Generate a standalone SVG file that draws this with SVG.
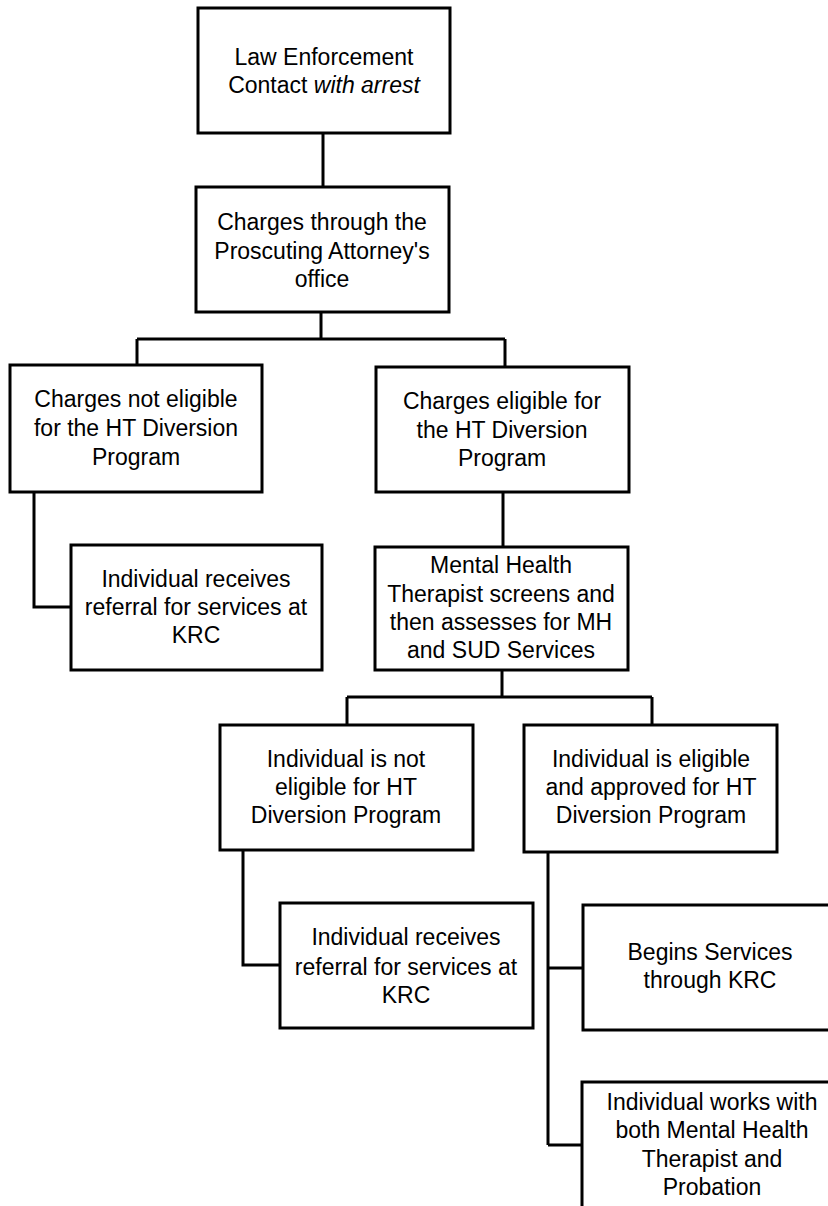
<svg xmlns="http://www.w3.org/2000/svg" width="828" height="1206" viewBox="0 0 828 1206">
<style>
.box{fill:#fff;stroke:#000;stroke-width:3}
.ln{fill:none;stroke:#000;stroke-width:3}
text{font-family:"Liberation Sans",Arial,sans-serif;font-size:23px;text-anchor:middle;fill:#000}
</style>
<rect width="828" height="1206" fill="#fff"/>
<g id="connectors">
<path class="ln" d="M323 133V187"/>
<path class="ln" d="M321 312V339M137 339H505M137 339V365M505 339V367"/>
<path class="ln" d="M34 492V607H71"/>
<path class="ln" d="M503 492V547"/>
<path class="ln" d="M502 670V697M347 697H652M347 697V725M652 697V725"/>
<path class="ln" d="M243 850V965H280"/>
<path class="ln" d="M548 852V1145M548 968H583M548 1145H582"/>
</g>
<g id="n1"><rect class="box" x="198" y="8" width="252" height="125"/>
<text x="324" y="65">Law Enforcement</text><text x="324" y="93">Contact <tspan font-style="italic">with arrest</tspan></text></g>
<g id="n2"><rect class="box" x="196" y="187" width="253" height="125"/>
<text x="322" y="230">Charges through the</text><text x="322" y="259">Proscuting Attorney's</text><text x="322" y="287">office</text></g>
<g id="n3"><rect class="box" x="10" y="365" width="252" height="127"/>
<text x="136" y="407">Charges not eligible</text><text x="136" y="436">for the HT Diversion</text><text x="136" y="465">Program</text></g>
<g id="n4"><rect class="box" x="376" y="367" width="253" height="125"/>
<text x="502" y="409">Charges eligible for</text><text x="502" y="438">the HT Diversion</text><text x="502" y="466">Program</text></g>
<g id="n5"><rect class="box" x="71" y="545" width="251" height="125"/>
<text x="196" y="587">Individual receives</text><text x="196" y="615">referral for services at</text><text x="196" y="643">KRC</text></g>
<g id="n6"><rect class="box" x="375" y="547" width="253" height="123"/>
<text x="501" y="573">Mental Health</text><text x="501" y="602">Therapist screens and</text><text x="501" y="630">then assesses for MH</text><text x="501" y="658">and SUD Services</text></g>
<g id="n7"><rect class="box" x="220" y="725" width="253" height="125"/>
<text x="346" y="767">Individual is not</text><text x="346" y="795">eligible for HT</text><text x="346" y="823">Diversion Program</text></g>
<g id="n8"><rect class="box" x="524" y="725" width="253" height="127"/>
<text x="651" y="767">Individual is eligible</text><text x="651" y="795">and approved for HT</text><text x="651" y="823">Diversion Program</text></g>
<g id="n9"><rect class="box" x="280" y="903" width="253" height="125"/>
<text x="406" y="945">Individual receives</text><text x="406" y="975">referral for services at</text><text x="406" y="1003">KRC</text></g>
<g id="n10"><rect class="box" x="583" y="905" width="260" height="125"/>
<text x="710" y="960">Begins Services</text><text x="710" y="988">through KRC</text></g>
<g id="n11"><rect class="box" x="582" y="1082" width="260" height="140"/>
<text x="712" y="1110">Individual works with</text><text x="712" y="1138">both Mental Health</text><text x="712" y="1167">Therapist and</text><text x="712" y="1195">Probation</text></g>
</svg>
